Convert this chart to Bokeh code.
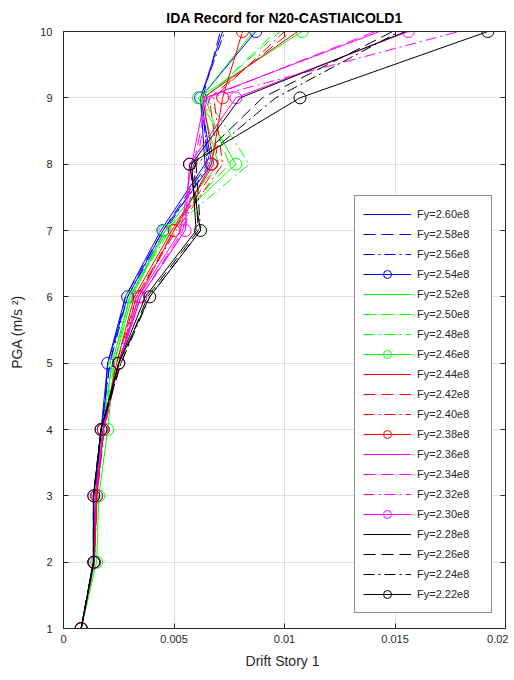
from bokeh.plotting import figure
from bokeh.models import FixedTicker, LinearAxis, Range1d
from bokeh.embed import file_html
from bokeh.resources import INLINE

# ---------------- data ----------------
pga = [1, 2, 3, 4, 5, 6, 7, 8, 9, 10]

fy_labels = ["Fy=2.60e8", "Fy=2.58e8", "Fy=2.56e8", "Fy=2.54e8",
             "Fy=2.52e8", "Fy=2.50e8", "Fy=2.48e8", "Fy=2.46e8",
             "Fy=2.44e8", "Fy=2.42e8", "Fy=2.40e8", "Fy=2.38e8",
             "Fy=2.36e8", "Fy=2.34e8", "Fy=2.32e8", "Fy=2.30e8",
             "Fy=2.28e8", "Fy=2.26e8", "Fy=2.24e8", "Fy=2.22e8"]

drift_260 = [0.0008, 0.00135, 0.00145, 0.0017, 0.0020, 0.0028, 0.0044, 0.0064, 0.0062, 0.0072]
drift_258 = [0.0008, 0.00135, 0.00145, 0.0017, 0.0021, 0.0028, 0.0045, 0.0065, 0.0063, 0.0071]
drift_256 = [0.0008, 0.00136, 0.00146, 0.00172, 0.0021, 0.0029, 0.0046, 0.0066, 0.0062, 0.0073]
drift_254 = [0.0008, 0.0014, 0.0015, 0.0018, 0.0020, 0.0029, 0.0045, 0.0067, 0.0062, 0.0087]

drift_252 = [0.0008, 0.0014, 0.0015, 0.00175, 0.0022, 0.0030, 0.0046, 0.0070, 0.0062, 0.0086]
drift_250 = [0.0008, 0.0014, 0.0015, 0.0018, 0.0022, 0.0030, 0.0047, 0.0075, 0.0064, 0.0098]
drift_248 = [0.0008, 0.0014, 0.00152, 0.0018, 0.0023, 0.0030, 0.0048, 0.0084, 0.0065, 0.0096]
drift_246 = [0.0008, 0.0015, 0.0016, 0.0020, 0.0023, 0.0031, 0.0046, 0.0078, 0.0061, 0.0108]

drift_244 = [0.0008, 0.00138, 0.0015, 0.0018, 0.0024, 0.0032, 0.0049, 0.0068, 0.0063, 0.0106]
drift_242 = [0.0008, 0.00138, 0.0015, 0.00182, 0.0024, 0.0033, 0.0050, 0.0070, 0.0066, 0.0103]
drift_240 = [0.0008, 0.0014, 0.00152, 0.00185, 0.0025, 0.0033, 0.0051, 0.0072, 0.0068, 0.0100]
drift_238 = [0.0008, 0.00138, 0.0015, 0.0018, 0.0025, 0.0034, 0.0050, 0.0067, 0.0072, 0.0081]

drift_236 = [0.0008, 0.00137, 0.00145, 0.0018, 0.0025, 0.0034, 0.0053, 0.0058, 0.0064, 0.0143]
drift_234 = [0.0008, 0.00137, 0.00145, 0.0018, 0.0025, 0.0035, 0.0054, 0.0059, 0.0065, 0.0141]
drift_232 = [0.0008, 0.00137, 0.00146, 0.00182, 0.0025, 0.0035, 0.0055, 0.0060, 0.0066, 0.0179]
drift_230 = [0.0008, 0.00137, 0.00137, 0.0017, 0.0025, 0.0035, 0.0055, 0.0057, 0.0078, 0.0156]

drift_228 = [0.0008, 0.00135, 0.00135, 0.0017, 0.0025, 0.0037, 0.0060, 0.0058, 0.0080, 0.0155]
drift_226 = [0.0008, 0.00135, 0.00135, 0.0017, 0.0026, 0.0038, 0.0061, 0.0059, 0.0090, 0.0149]
drift_224 = [0.0008, 0.00135, 0.00136, 0.0017, 0.0026, 0.0039, 0.0062, 0.0060, 0.0096, 0.0152]
drift_222 = [0.0008, 0.00137, 0.00137, 0.0017, 0.0025, 0.0039, 0.0062, 0.0057, 0.0107, 0.0192]

series = [drift_260, drift_258, drift_256, drift_254,
          drift_252, drift_250, drift_248, drift_246,
          drift_244, drift_242, drift_240, drift_238,
          drift_236, drift_234, drift_232, drift_230,
          drift_228, drift_226, drift_224, drift_222]

x_ticks = [0, 0.005, 0.01, 0.015, 0.02]
x_tick_labels = ["0", "0.005", "0.01", "0.015", "0.02"]
y_ticks = [1, 2, 3, 4, 5, 6, 7, 8, 9, 10]

# ---------------- styles ----------------
group_colors = ["#0000ff", "#00ff00", "#ff0000", "#ff00ff", "#000000"]
styles = ["solid", "12 6", "11 4 2 4", "solid"]
markers = [False, False, False, True]

AX = "#262626"
FONT = "Liberation Sans"

p = figure(width=508, height=673,
           x_range=Range1d(0, 0.02), y_range=Range1d(1, 10),
           output_backend="svg", toolbar_location=None,
           min_border_left=63, min_border_right=3,
           min_border_top=31, min_border_bottom=45,
           background_fill_color="white", border_fill_color="white")

p.title.text = "IDA Record for N20-CASTIAICOLD1"
p.title.align = "center"
p.title.text_font = FONT
p.title.text_font_size = "14px"
p.title.text_font_style = "bold"
p.title.text_color = "black"
p.title.text_line_height = 1.0
p.title.standoff = 12
p.title.offset = 0

p.outline_line_color = AX
p.outline_line_width = 1

for ax in (p.xaxis[0], p.yaxis[0]):
    ax.major_tick_in = 5
    ax.major_tick_out = 0
    ax.minor_tick_line_color = None
    ax.axis_line_color = AX
    ax.major_tick_line_color = AX
    ax.major_label_text_color = AX
    ax.major_label_text_font = FONT
    ax.major_label_text_font_size = "11px"
    ax.axis_label_text_font = FONT
    ax.axis_label_text_font_size = "14px"
    ax.axis_label_text_font_style = "normal"
    ax.axis_label_text_color = AX

p.xaxis.ticker = FixedTicker(ticks=x_ticks)
p.xaxis.major_label_overrides = {t: s for t, s in zip(x_ticks, x_tick_labels)}
p.yaxis.ticker = FixedTicker(ticks=y_ticks)
p.xaxis.axis_label = "Drift Story  1"
p.yaxis.axis_label = "PGA (m/s  \u00b2)"
p.xaxis.major_label_standoff = 6
p.xaxis.axis_label_standoff = 7
p.yaxis.major_label_standoff = 11
p.yaxis.axis_label_standoff = 12

for loc, tick in (("above", x_ticks), ("right", y_ticks)):
    a = LinearAxis(ticker=FixedTicker(ticks=tick))
    a.major_tick_in = 5
    a.major_tick_out = 0
    a.minor_tick_line_color = None
    a.axis_line_color = AX
    a.major_tick_line_color = AX
    a.major_label_text_font_size = "0px"
    a.major_label_standoff = 0
    a.major_label_text_color = None
    p.add_layout(a, loc)

p.xgrid.grid_line_color = "#dfdfdf"
p.ygrid.grid_line_color = "#dfdfdf"
p.xgrid.ticker = FixedTicker(ticks=x_ticks)
p.ygrid.ticker = FixedTicker(ticks=y_ticks)

for i, (xs, lab) in enumerate(zip(series, fy_labels)):
    col = group_colors[i // 4]
    dash = styles[i % 4]
    p.line(xs, pga, line_color=col, line_dash=dash, line_width=1, legend_label=lab)
    if markers[i % 4]:
        p.scatter(xs, pga, marker="circle", size=12, fill_color=None,
                  line_color=col, line_width=1, legend_label=lab)

lg = p.legend[0]
lg.location = (291, 15)
lg.border_line_color = AX
lg.border_line_width = 1
lg.background_fill_color = "white"
lg.background_fill_alpha = 1
lg.padding = 8
lg.spacing = 0
lg.margin = 0
lg.glyph_height = 20
lg.label_height = 20
lg.glyph_width = 48
lg.label_standoff = 6
lg.label_width = 66
lg.label_text_font = FONT
lg.label_text_font_size = "11px"
lg.label_text_color = AX

open("out.html", "w").write(file_html(p, INLINE))
